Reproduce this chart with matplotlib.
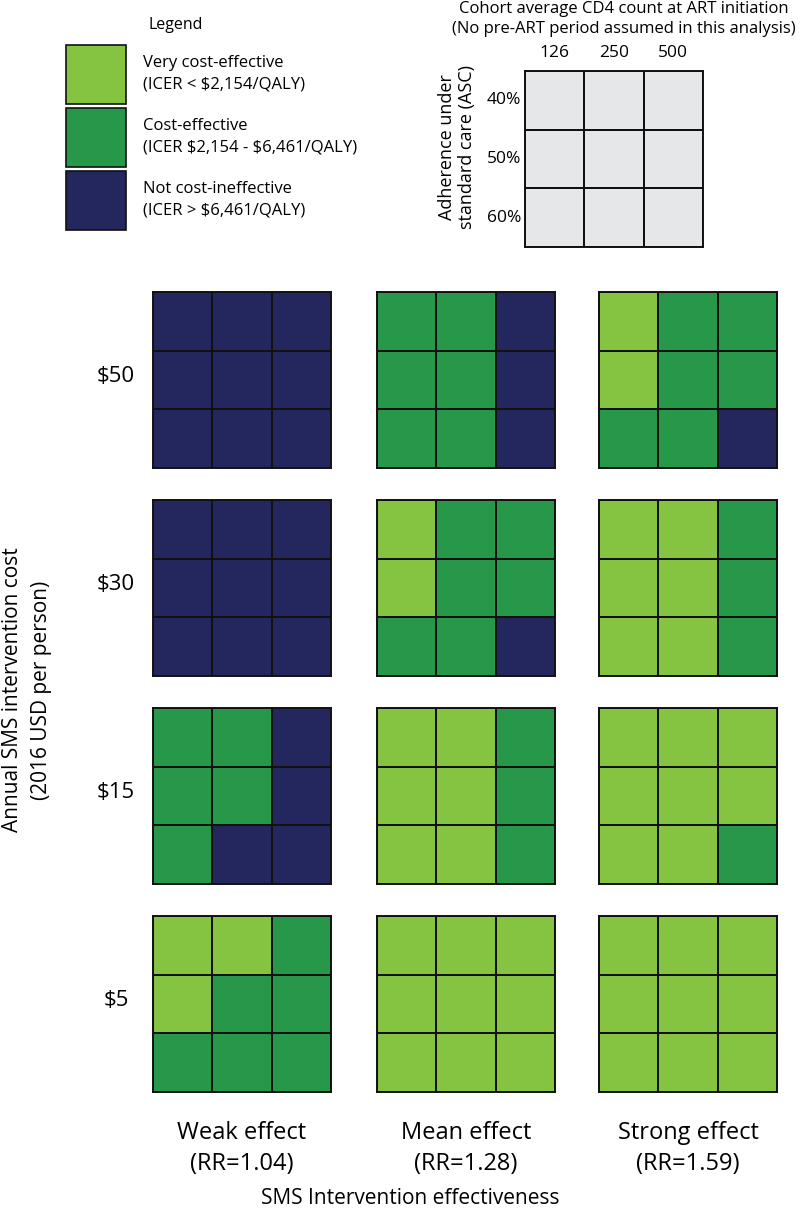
import numpy as np
import matplotlib
matplotlib.use('Agg')
from matplotlib import pyplot as plt
from matplotlib.colors import ListedColormap
from matplotlib.patches import Rectangle

plt.rcParams['font.family'] = ['Open Sans', 'DejaVu Sans']

# category codes: 0 = very cost-effective, 1 = cost-effective, 2 = not cost-effective
costs = ['$50', '$30', '$15', '$5']
effect_names = ['Weak effect', 'Mean effect', 'Strong effect']
effect_rr = ['(RR=1.04)', '(RR=1.28)', '(RR=1.59)']
cd4_counts = ['126', '250', '500']
adherence = ['40%', '50%', '60%']
legend_labels = ['Very cost-effective\n(ICER < $2,154/QALY)',
                 'Cost-effective\n(ICER $2,154 - $6,461/QALY)',
                 'Not cost-ineffective\n(ICER > $6,461/QALY)']

# rows = adherence (40/50/60%), cols = CD4 count (126/250/500)
cost50_weak = [[2, 2, 2], [2, 2, 2], [2, 2, 2]]
cost50_mean = [[1, 1, 2], [1, 1, 2], [1, 1, 2]]
cost50_strong = [[0, 1, 1], [0, 1, 1], [1, 1, 2]]
cost30_weak = [[2, 2, 2], [2, 2, 2], [2, 2, 2]]
cost30_mean = [[0, 1, 1], [0, 1, 1], [1, 1, 2]]
cost30_strong = [[0, 0, 1], [0, 0, 1], [0, 0, 1]]
cost15_weak = [[1, 1, 2], [1, 1, 2], [1, 2, 2]]
cost15_mean = [[0, 0, 1], [0, 0, 1], [0, 0, 1]]
cost15_strong = [[0, 0, 0], [0, 0, 0], [0, 0, 1]]
cost5_weak = [[0, 0, 1], [0, 1, 1], [1, 1, 1]]
cost5_mean = [[0, 0, 0], [0, 0, 0], [0, 0, 0]]
cost5_strong = [[0, 0, 0], [0, 0, 0], [0, 0, 0]]

grids = [[cost50_weak, cost50_mean, cost50_strong],
         [cost30_weak, cost30_mean, cost30_strong],
         [cost15_weak, cost15_mean, cost15_strong],
         [cost5_weak, cost5_mean, cost5_strong]]

colors = ['#85c441', '#27974a', '#23275d']
cmap = ListedColormap(colors)
W, H = 800, 1214

fig = plt.figure(figsize=(W / 100, H / 100), dpi=100)


def fx(x):
    return x / W


def fy(y):
    return 1 - y / H


def label(x, y, s, **kw):
    kw.setdefault('ha', 'center')
    kw.setdefault('va', 'center')
    return fig.text(fx(x), fy(y), s, parse_math=False, **kw)


def grid_axes(x0, y0, w, h):
    ax = fig.add_axes([fx(x0), fy(y0 + h), w / W, h / H])
    ax.set_xlim(0, 3)
    ax.set_ylim(3, 0)
    ax.set_xticks([])
    ax.set_yticks([])
    for s in ax.spines.values():
        s.set_linewidth(1.4)
        s.set_color('#111111')
    return ax


col_x = [153, 377, 599]
row_y = [292, 500, 708, 916]
cw, ch = 178, 176

for i, row in enumerate(grids):
    for j, g in enumerate(row):
        ax = grid_axes(col_x[j], row_y[i], cw, ch)
        ax.pcolormesh(np.array(g), cmap=cmap, vmin=-0.5, vmax=2.5,
                      edgecolors='#111111', linewidth=1.2)
    label(116, row_y[i] + ch / 2 - 3, costs[i], fontsize=16)

for j in range(3):
    label(col_x[j] + cw / 2, 1133, effect_names[j], fontsize=17)
    label(col_x[j] + cw / 2, 1164, effect_rr[j], fontsize=17)

label(410, 1199, 'SMS Intervention effectiveness', fontsize=15)
label(27, 690, 'Annual SMS intervention cost\n(2016 USD per person)',
      fontsize=15, rotation=90, linespacing=1.45)

# key grid
kx, ky = 525, 71
key = grid_axes(kx, ky, 178, 176)
key.pcolormesh(np.zeros((3, 3)), cmap=ListedColormap(['#e6e7e8']),
               edgecolors='#111111', linewidth=1.2)
for j, c in enumerate(cd4_counts):
    label(kx + 178 * (j + 0.5) / 3, 53, c, fontsize=12.5)
for i, a in enumerate(adherence):
    label(521, ky + 176 * (i + 0.5) / 3, a, fontsize=12.5, ha='right')
label(624, 19, 'Cohort average CD4 count at ART initiation\n'
      '(No pre-ART period assumed in this analysis)', fontsize=12,
      linespacing=1.35)
label(457, 147, 'Adherence under\nstandard care (ASC)', fontsize=13,
      rotation=90, linespacing=1.15)

# legend
label(176, 25, 'Legend', fontsize=11.5)
for i, lab in enumerate(legend_labels):
    y0 = 45 + i * 63
    fig.add_artist(Rectangle((fx(66), fy(y0 + 59)), 60 / W, 59 / H,
                             transform=fig.transFigure, facecolor=colors[i],
                             edgecolor='#111111', linewidth=1.2))
    label(143, y0 + 29, lab, fontsize=12, ha='left', linespacing=1.45)

fig.savefig('out.png', dpi=100)
